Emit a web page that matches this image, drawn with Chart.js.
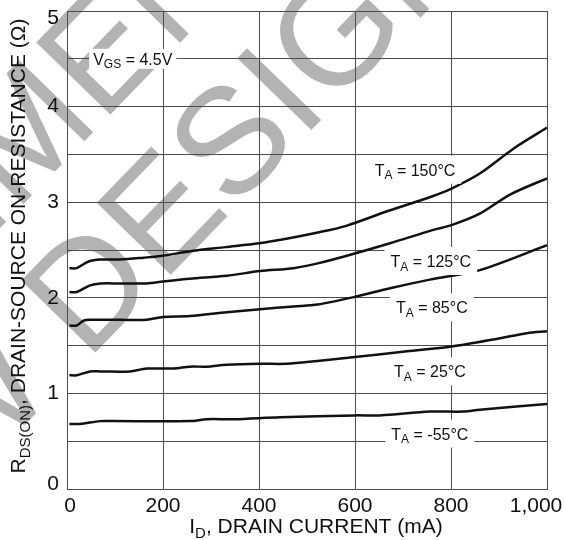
<!DOCTYPE html>
<html>
<head>
<meta charset="utf-8">
<script src="https://cdn.jsdelivr.net/npm/chart.js@4.4.1/dist/chart.umd.min.js"></script>
<style>
  html, body { margin: 0; padding: 0; background: #fff; }
  #wrap { width: 564px; height: 540px; }
</style>
</head>
<body>
<div id="wrap"><canvas id="chart" width="564" height="540"></canvas></div>
<script>
// R_DS(ON) vs drain current
const xTicks = [0, 200, 400, 600, 800, 1000];
const yTicks = [0, 1, 2, 3, 4, 5];

const curve150 = [[5,2.31],[20,2.31],[45,2.38],[70,2.40],[110,2.40],[160,2.42],[200,2.44],[260,2.49],[330,2.53],[400,2.57],[460,2.62],[520,2.68],[580,2.75],[670,2.91],[760,3.06],[800,3.14],[860,3.30],[930,3.56],[1000,3.78]];
const curve125 = [[5,2.06],[20,2.06],[48,2.13],[70,2.15],[110,2.15],[166,2.15],[200,2.17],[256,2.20],[333,2.23],[402,2.28],[472,2.31],[522,2.36],[583,2.44],[673,2.57],[763,2.71],[801,2.76],[860,2.88],[923,3.08],[1000,3.25]];
const curve85 = [[5,1.71],[20,1.71],[34,1.76],[48,1.77],[110,1.77],[166,1.77],[200,1.80],[256,1.81],[333,1.85],[402,1.88],[472,1.91],[522,1.93],[600,2.01],[673,2.10],[756,2.19],[860,2.29],[1000,2.55]];
const curve25 = [[5,1.19],[20,1.19],[48,1.23],[69,1.23],[131,1.23],[166,1.26],[222,1.26],[256,1.28],[291,1.28],[333,1.30],[402,1.31],[458,1.31],[522,1.34],[600,1.38],[708,1.44],[801,1.49],[895,1.57],[958,1.63],[1000,1.65]];
const curveM55 = [[5,0.68],[27,0.68],[69,0.71],[96,0.71],[256,0.71],[291,0.73],[347,0.73],[444,0.75],[600,0.77],[652,0.77],[756,0.81],[826,0.81],[860,0.83],[1000,0.89]];

// curve labels: [main, subscript, rest, x (mA), y (ohm)]
const curveLabels = [
  ['T', 'A', ' = 150°C', 725, 3.34],
  ['T', 'A', ' = 125°C', 758, 2.385],
  ['T', 'A', ' = 85°C', 760, 1.90],
  ['T', 'A', ' = 25°C', 756, 1.23],
  ['T', 'A', ' = -55°C', 756, 0.58]
];
const vgsLabel = ['V', 'GS', ' = 4.5V', 137, 4.5];

const FONT = "'Liberation Sans', Arial, sans-serif";
const GRID = '#4d4d4d';

function toPoints(arr) {
  return arr.map(p => ({x: p[0], y: p[1]}));
}

// draw text with a subscript, parts = [[text, isSub], ...]
function richWidth(ctx, parts, size) {
  let w = 0;
  parts.forEach(p => {
    ctx.font = (p[1] ? Math.round(size * 0.72) : size) + 'px ' + FONT;
    w += ctx.measureText(p[0]).width;
  });
  return w;
}
function drawRich(ctx, parts, x, y, size) {
  // x is the left edge, y the baseline
  ctx.textAlign = 'left';
  ctx.textBaseline = 'alphabetic';
  parts.forEach(p => {
    ctx.font = (p[1] ? Math.round(size * 0.72) : size) + 'px ' + FONT;
    ctx.fillText(p[0], x, p[1] ? y + size * 0.22 : y);
    x += ctx.measureText(p[0]).width;
  });
}

const watermark = {
  id: 'watermark',
  beforeDraw(chart) {
    const ctx = chart.ctx;
    ctx.save();
    ctx.fillStyle = '#b3b3b3';
    ctx.font = '150px ' + FONT;
    ctx.textAlign = 'left';
    ctx.textBaseline = 'alphabetic';
    ctx.translate(86, 285);
    ctx.rotate(-0.80);
    const capMid = 150 * 0.716 / 2;
    let x0 = -(ctx.measureText('NEW ').width + ctx.measureText('D').width / 2);
    ctx.fillText('NEW DESIGN', x0, capMid);
    x0 = 177 - ctx.measureText('NOT RECOMM').width - ctx.measureText('E').width / 2;
    ctx.fillText('NOT RECOMMENDED FOR', x0, capMid - 155);
    ctx.restore();

    // nudge edge tick labels inside the canvas like the original
    const xi = chart.scales.x.getLabelItems();
    xi.forEach(it => {
      if (it.label === '1,000') it.options.translation[0] -= 11;
      if (it.label === '0') it.options.translation[0] += 3;
    });
    const yi = chart.scales.y.getLabelItems();
    yi.forEach(it => {
      if (it.label === '5') it.options.translation[1] += 7;
      if (it.label === '0') it.options.translation[1] -= 5;
    });
  }
};

const annotations = {
  id: 'annotations',
  afterDraw(chart) {
    const ctx = chart.ctx;
    const xs = chart.scales.x, ys = chart.scales.y;
    ctx.save();
    ctx.fillStyle = '#111';

    // curve labels with white boxes
    const all = curveLabels.concat([vgsLabel]);
    all.forEach((l, i) => {
      const size = 16;
      const parts = [[l[0], false], [l[1], true], [l[2], false]];
      const w = richWidth(ctx, parts, size);
      const cx = xs.getPixelForValue(l[3]);
      const cy = ys.getPixelForValue(l[4]);
      const isVgs = i === all.length - 1;
      ctx.fillStyle = '#fff';
      if (isVgs) ctx.fillRect(cx - w / 2 - 4, cy - 10, w + 8, 20);
      else ctx.fillRect(cx - w / 2 - 6, cy - 14, w + 12, 28);
      ctx.fillStyle = '#111';
      drawRich(ctx, parts, cx - w / 2, cy + 6, size);
    });

    // x axis title
    const tsize = 21;
    let parts = [['I', false], ['D', true], [', DRAIN CURRENT (mA)', false]];
    let w = richWidth(ctx, parts, tsize);
    drawRich(ctx, parts, 316 - w / 2, 533, tsize);

    // y axis title
    parts = [['R', false], ['DS(ON)', true], [', DRAIN-SOURCE ON-RESISTANCE (Ω)', false]];
    w = richWidth(ctx, parts, tsize);
    ctx.translate(25, 246);
    ctx.rotate(-Math.PI / 2);
    drawRich(ctx, parts, -w / 2, 0, tsize);
    ctx.restore();
  }
};

function lineSet(arr) {
  return {
    data: toPoints(arr),
    borderColor: '#111',
    borderWidth: 2.5,
    pointRadius: 0,
    tension: 0.3,
    fill: false
  };
}

new Chart(document.getElementById('chart'), {
  type: 'line',
  data: {
    datasets: [curve150, curve125, curve85, curve25, curveM55].map(lineSet)
  },
  options: {
    responsive: false,
    animation: false,
    layout: { padding: { left: 0, top: 11, right: 17, bottom: 0 } },
    plugins: { legend: { display: false }, tooltip: { enabled: false } },
    scales: {
      x: {
        type: 'linear',
        min: 0,
        max: 1000,
        afterBuildTicks: s => { s.ticks = xTicks.map(v => ({value: v})); },
        afterFit: s => { s.height = 51; s.paddingLeft = 0; s.paddingRight = 0; },
        grid: { color: GRID, lineWidth: 1, drawTicks: false },
        border: { color: GRID, width: 1 },
        ticks: {
          padding: 5,
          color: '#111',
          font: { family: FONT, size: 21 },
          maxRotation: 0,
          callback: v => v.toLocaleString('en-US')
        }
      },
      y: {
        type: 'linear',
        min: 0,
        max: 5,
        afterFit: s => { s.width = 67; s.paddingTop = 0; s.paddingBottom = 0; },
        grid: { color: GRID, lineWidth: 1, drawTicks: false },
        border: { color: GRID, width: 1 },
        ticks: {
          stepSize: 0.5,
          padding: 8,
          color: '#111',
          font: { family: FONT, size: 21 },
          callback: v => (yTicks.includes(v) ? String(v) : '')
        }
      }
    }
  },
  plugins: [watermark, annotations]
});
</script>
</body>
</html>
